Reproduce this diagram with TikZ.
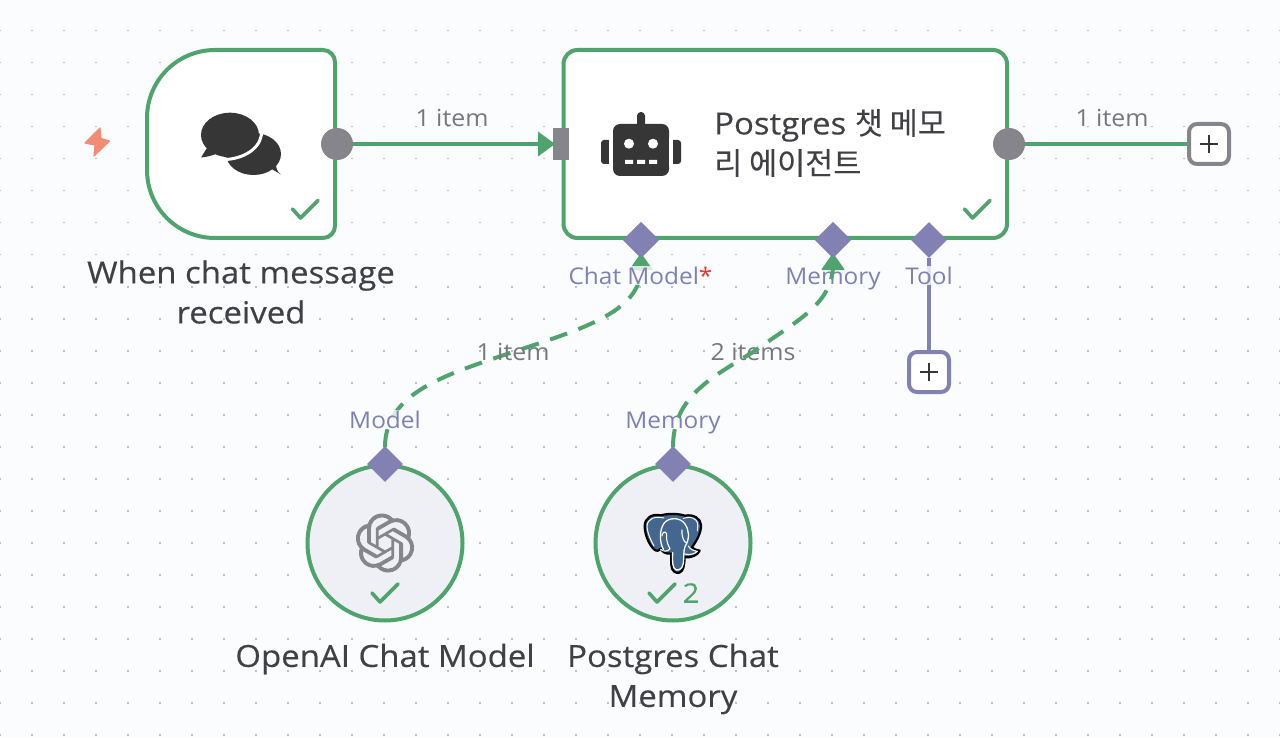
\documentclass[tikz,border=0pt]{standalone}
\usepackage{fontspec}
\setmainfont[FakeStretch=1.06]{Open Sans}
\newfontfamily\titlefont[FakeStretch=1.08,FakeBold=0.3]{Open Sans}
\newfontfamily\krfont[FakeBold=0.1]{Noto Sans CJK KR}
\usetikzlibrary{svg.path,shapes.geometric,arrows.meta}
\definecolor{bgc}{HTML}{FBFCFE}
\definecolor{okgreen}{HTML}{4FA36C}
\definecolor{portc}{HTML}{85858B}
\definecolor{violet}{HTML}{8181B3}
\definecolor{violettext}{HTML}{7F80B5}
\definecolor{ink}{HTML}{414145}
\definecolor{icon}{HTML}{363636}
\definecolor{edgetext}{HTML}{77777D}
\definecolor{circfill}{HTML}{EFF0F5}
\definecolor{dotc}{HTML}{C0C0C4}
\definecolor{pgblue}{HTML}{43678F}
\definecolor{boltc}{HTML}{F38B75}
\definecolor{starc}{HTML}{E8352F}
\tikzset{
  x=1pt,y=-1pt,
  okline/.style={draw=okgreen,line width=4pt},
  flow/.style={okline,line cap=butt},
  dashflow/.style={draw=okgreen,line width=4pt,dash pattern=on 18pt off 12pt},
  tick/.style={draw=okgreen,line width=3.6pt,line cap=round,line join=round},
  outdot/.style={circle,fill=portc,minimum size=32pt,inner sep=0pt},
  inport/.style={rectangle,fill=portc,minimum width=16pt,minimum height=32pt,inner sep=0pt},
  subport/.style={diamond,fill=violet,minimum width=36pt,minimum height=36pt,inner sep=0pt},
  plusbox/.style={rectangle,rounded corners=8pt,fill=white,line width=4pt,minimum size=40pt,inner sep=0pt},
  subnode/.style={circle,draw=okgreen,fill=circfill,line width=4pt,minimum size=155pt,inner sep=0pt},
  title/.style={text=ink,font=\titlefont\fontsize{30.5}{40}\selectfont,align=center,inner sep=0pt},
  edgelabel/.style={text=edgetext,font=\fontsize{23.5}{28}\selectfont,inner sep=0pt},
  portlabel/.style={text=violettext,font=\fontsize{23}{26}\selectfont,inner sep=1pt,anchor=base,fill=bgc,fill opacity=.8,text opacity=1},
}
\begin{document}
\begin{tikzpicture}
\useasboundingbox (0,0) rectangle (1280,738);
\fill[bgc] (0,0) rectangle (1280,738);
% dot grid
\foreach \i in {0,...,40}\foreach \j in {0,...,23}{\fill[dotc] ({32*\i-.8},{32*\j-1.3-.8}) rectangle +(1.6,1.6);}
% trigger box
\draw[okline,fill=white] (323,50) .. controls (329.6,50) and (335,55.4) .. (335,62) -- (335,226) .. controls (335,232.6) and (329.6,238) .. (323,238) -- (215,238) .. controls (177.4,238) and (147,207.6) .. (147,170) -- (147,118) .. controls (147,80.4) and (177.4,50) .. (215,50) -- cycle;
% agent box
\draw[okline,fill=white,rounded corners=14pt] (563.5,50) rectangle (1007,238);
% subnodes
\node[subnode] (oai) at (385,543) {};
\node[subnode] (pgm) at (673,543) {};
% ports
\node[outdot] (trigout) at (337,144) {};
\node[outdot] (agentout) at (1009,144) {};
\node[inport] (agentin) at (561,144) {};
\node[subport] (pcm) at (641,240) {};
\node[subport] (pmem) at (833,240) {};
\node[subport] (ptool) at (929,240) {};
\node[subport] (oaiport) at (385,464) {};
\node[subport] (pgmport) at (673,464) {};
\node[plusbox,draw=portc] (plusmain) at (1209,144) {};
\node[plusbox,draw=violet] (plustool) at (929,372) {};
\coordinate (cmtip) at (641,253);
\coordinate (memtip) at (833,253);
\coordinate (cmend) at (641,268);
\coordinate (memend) at (833,268);
\coordinate (midcm) at (513,352);
\coordinate (midmem) at (753,352);
\coordinate (oaitop) at (385,447);
\coordinate (pgmtop) at (673,447);
% connectors
\draw[flow] (trigout) -- (agentin);
\draw[flow] (agentout) -- (plusmain);
\draw[violet,line width=4pt] (ptool) -- (plustool);
\draw[dashflow] (oaitop) .. controls +(0,-55) and +(-65,22) .. (midcm) .. controls +(65,-22) and +(0,45) .. (cmend);
% arrow heads
\fill[okgreen] (538,131.5) -- (555,144) -- (538,156.5) -- cycle;
\fill[okgreen,rounded corners=1pt] (cmtip) -- (653,270) -- (629,270) -- cycle;
\node[subport] at (641,240) {};
% labels
\node[edgelabel] (l1) at (452,118) {1 item};
\node[edgelabel] (l2) at (1112,118) {1 item};
\node[edgelabel] (l3) at (513,352) {1 item};
\node[edgelabel] (l4) at (753,352) {2 items};
\node[portlabel] (t1) at (640.5,284) {Chat Model\textcolor{starc}{*}};
\node[portlabel] (t2) at (833,284) {Memory};
\node[portlabel] (t3) at (929,284) {Tool};
\node[portlabel] (t4) at (385,428) {Model};
\node[portlabel] (t5) at (673,428) {Memory};
% memory connector runs over its label
\draw[dashflow] (pgmtop) .. controls +(0,-50) and +(-42,26) .. (midmem) .. controls +(45,-32) and +(-3,37) .. (memend);
\fill[okgreen,rounded corners=1pt] (memtip) -- (845,270) -- (821,270) -- cycle;
\node[subport] at (833,240) {};
\node[title] (tt1) at (241,292) {When chat message\\received};
\node[title] (tt2) at (385,659) {OpenAI Chat Model};
\node[title] (tt3) at (673,679) {Postgres Chat\\Memory};
\node[title,align=left,anchor=west] (tt4) at (714,143) {Postgres {\krfont 챗 메모}\\{\krfont 리 에이전트}};
\node[text=okgreen,font=\titlefont\fontsize{27}{30}\selectfont,inner sep=0pt] (cnt) at (691,593) {2};
% plus signs
\draw[icon,line width=1.8pt] (1200,144) -- (1218,144) (1209,135) -- (1209,153);
\draw[icon,line width=1.8pt] (920,372) -- (938,372) (929,363) -- (929,381);
% ticks
\draw[tick] (292.5,209) -- (300.5,218) -- (318,200.5);
\draw[tick] (964.5,209) -- (972.5,218) -- (990,200.5);
\draw[tick] (372,593) -- (380,602) -- (398,584);
\draw[tick] (649,593) -- (657,602) -- (675,584);
% bolt
\fill[draw=boltc,fill=boltc,line width=1.2pt,line join=round] (100,128) -- (85,143) -- (95,145) -- (94,156) -- (109.5,141) -- (101,138.5) -- cycle;
% chat icon
\fill[icon] (253.5,154) ellipse[x radius=27.5,y radius=21];
\fill[icon] (270,168) -- (281,174.5) .. controls (277,172) and (276,168) .. (275,160) -- cycle;
\fill[icon] (230,135) ellipse[x radius=29,y radius=22.3];
\fill[icon] (207,148) -- (201,157.5) .. controls (208,157) and (213,155) .. (219,153) -- cycle;
\draw[white,line width=3pt] (261.5,130) .. controls (263,145) and (248,158) .. (226,159.5);
% robot icon
\fill[icon,rounded corners=7pt] (613,124) rectangle (669,176);
\fill[icon,rounded corners=3.8pt] (637,112) rectangle (645,128);
\fill[icon,rounded corners=3pt] (601,140) rectangle (612,164);
\fill[white] (609,138) rectangle (613,166);
\fill[icon,rounded corners=3pt] (670,140) rectangle (681,164);
\fill[white] (669,138) rectangle (673,166);
\fill[white] (629,143.7) circle[radius=5] (653,143.7) circle[radius=5];
\fill[white] (625,160) rectangle (633,164) (637,160) rectangle (645,164) (649,160) rectangle (657,164);
% OpenAI logo
\fill[portc,xshift=355.5pt,yshift=-513.5pt,xscale=2.46,yscale=-2.46] svg "M 22.2819 9.8211 a 5.9847 5.9847 0 0 0 -0.5157 -4.9108 6.0462 6.0462 0 0 0 -6.5098 -2.9 A 6.0651 6.0651 0 0 0 4.9807 4.1818 a 5.9847 5.9847 0 0 0 -3.9977 2.9 6.0462 6.0462 0 0 0 0.7427 7.0966 5.98 5.98 0 0 0 0.511 4.9107 6.051 6.051 0 0 0 6.5146 2.9001 A 5.9847 5.9847 0 0 0 13.2599 24 a 6.0557 6.0557 0 0 0 5.7718 -4.2058 5.9894 5.9894 0 0 0 3.9977 -2.9001 6.0557 6.0557 0 0 0 -0.7475 -7.0729 z M 13.2599 22.4292 a 4.4755 4.4755 0 0 1 -2.8764 -1.0408 l 0.1419 -0.0804 4.7783 -2.7582 a 0.7948 0.7948 0 0 0 0.3927 -0.6813 v -6.7369 l 2.02 1.1686 a 0.071 0.071 0 0 1 0.038 0.052 v 5.5826 a 4.504 4.504 0 0 1 -4.4945 4.4944 z M 3.5992 18.3038 a 4.4708 4.4708 0 0 1 -0.5346 -3.0137 l 0.142 0.0852 4.783 2.7582 a 0.7712 0.7712 0 0 0 0.7806 0 l 5.8428 -3.3685 v 2.3324 a 0.0804 0.0804 0 0 1 -0.0332 0.0615 L 9.74 19.9502 a 4.4992 4.4992 0 0 1 -6.1408 -1.6464 z M 2.3408 7.8956 a 4.485 4.485 0 0 1 2.3655 -1.9728 V 11.6 a 0.7664 0.7664 0 0 0 0.3879 0.6765 l 5.8144 3.3543 -2.0201 1.1685 a 0.0757 0.0757 0 0 1 -0.071 0 l -4.8303 -2.7865 A 4.504 4.504 0 0 1 2.3408 7.872 z M 18.9371 11.7514 L 13.1038 8.364 15.1192 7.2 a 0.0757 0.0757 0 0 1 0.071 0 l 4.8303 2.7913 a 4.4944 4.4944 0 0 1 -0.6765 8.1042 v -5.6772 a 0.79 0.79 0 0 0 -0.407 -0.667 z M 20.9478 8.7283 l -0.142 -0.0852 -4.7735 -2.7818 a 0.7759 0.7759 0 0 0 -0.7854 0 L 9.409 9.2297 V 6.8974 a 0.0662 0.0662 0 0 1 0.0284 -0.0615 l 4.8303 -2.7866 a 4.4992 4.4992 0 0 1 6.6802 4.66 z M 8.3065 12.863 l -2.02 -1.1638 a 0.0804 0.0804 0 0 1 -0.038 -0.0567 V 6.0742 a 4.4992 4.4992 0 0 1 7.3757 -3.4537 l -0.142 0.0805 L 8.704 5.459 a 0.7948 0.7948 0 0 0 -0.3927 0.6813 z M 9.4041 10.4976 l 2.602 -1.4998 2.6069 1.4998 v 2.9994 l -2.5974 1.4997 -2.6067 -1.4997 Z";
% Postgres elephant
\begin{scope}[shift={(640,510)},x=.3333pt,y=-.3333pt,line join=round,line cap=round]
\def\elephantpath{(62,16) .. controls (35,10) and (14,25) .. (14,48) .. controls (14,75) and (28,105) .. (42,118) .. controls (50,125) and (58,123) .. (64,116) .. controls (66,126) and (76,132) .. (94,131) -- (94,165) .. controls (94,184) and (108,191) .. (118,188) .. controls (131,184) and (133,165) .. (134,142) .. controls (152,144) and (174,136) .. (179,122) .. controls (170,120) and (160,118) .. (156,112) .. controls (170,92) and (184,68) .. (183,45) .. controls (182,25) and (160,12) .. (135,17) .. controls (112,10) and (85,10) .. (62,16) -- cycle}
\draw[black,line width=2.2pt,fill=pgblue] \elephantpath;
\draw[white,line width=1pt] (42,108) .. controls (29,85) and (20,60) .. (21,47) .. controls (24,25) and (45,18) .. (72,24);
\draw[white,line width=1pt] (172,62) .. controls (176,42) and (172,30) .. (160,25) .. controls (150,20) and (140,22) .. (130,25);
\draw[white,line width=1.3pt] (70,118) .. controls (58,95) and (58,60) .. (72,40) .. controls (85,22) and (120,20) .. (135,42) .. controls (148,62) and (150,85) .. (135,110) .. controls (130,122) and (132,145) .. (130,160) .. controls (128,180) and (108,188) .. (101,172) .. controls (96,158) and (98,140) .. (98,128);
\draw[white,line width=1.1pt] (62,118) .. controls (72,127) and (84,124) .. (90,116) .. controls (84,105) and (78,92) .. (80,72) .. controls (76,62) and (68,65) .. (66,78);
\draw[white,line width=1.1pt] (134,132) .. controls (148,136) and (165,132) .. (172,124) .. controls (160,122) and (150,118) .. (145,108);
\draw[white,line width=1.1pt] (126,60) .. controls (124,75) and (130,95) .. (140,100);
\end{scope}
\end{tikzpicture}
\end{document}
